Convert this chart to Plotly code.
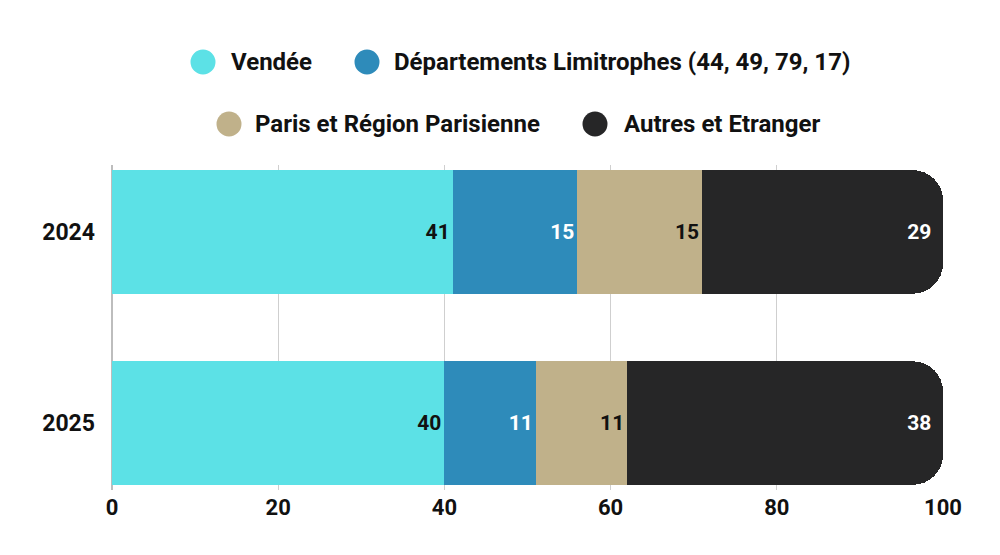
import plotly.graph_objects as go

# data
years = ["2024", "2025"]
series_names = ["Vendée", "Départements Limitrophes (44, 49, 79, 17)",
                "Paris et Région Parisienne", "Autres et Etranger"]
vendee = [41, 40]
limitrophes = [15, 11]
paris = [15, 11]
autres = [29, 38]
x_ticks = [0, 20, 40, 60, 80, 100]

colors = ["#5CE1E6", "#2E8BBA", "#C0B18A", "#262627"]
text_colors = ["#111111", "#FFFFFF", "#111111", "#FFFFFF"]
FONT = "Roboto"

# page has an 8px body margin, so the figure is drawn 8px in from the corner
PAD = 8
W, H = 1000, 555
L, R, T, B = 112 - PAD, 57 + PAD, 165 - PAD, 65 + PAD
# legend items: circle centre x, text start x, row centre y (screen pixels)
legend_pos = [(203, 229, 62), (367, 392, 62), (229, 253, 124), (595, 622, 124)]


def px_x(p):
    return (p - PAD - L) / (W - L - R)


def px_y(p):
    return (H - B - (p - PAD)) / (H - T - B)


fig = go.Figure()

for name, vals, col, tcol in zip(series_names, [vendee, limitrophes, paris, autres],
                                 colors, text_colors):
    fig.add_trace(go.Bar(
        y=years, x=vals, orientation="h", name=name,
        marker=dict(color=col, line=dict(width=0)),
        text=vals, textposition="inside", insidetextanchor="end",
        textfont=dict(color=tcol, size=21, family=FONT, weight="bold"),
        showlegend=False, hoverinfo="x+name",
    ))

# legend drawn by hand so the dots can be as big as in the original
for name, col, (cx, tx, cy) in zip(series_names, colors, legend_pos):
    fig.add_shape(
        type="circle", xref="paper", yref="paper",
        xsizemode="pixel", ysizemode="pixel",
        xanchor=px_x(cx), yanchor=px_y(cy),
        x0=-12.5, x1=12.5, y0=-12.5, y1=12.5,
        fillcolor=col, line=dict(width=0),
    )
    fig.add_annotation(
        x=px_x(tx), y=px_y(cy), xref="paper", yref="paper",
        text=name, showarrow=False, xanchor="left", yanchor="middle",
        font=dict(size=24, family=FONT, color="#111111", weight="bold"),
    )

fig.update_layout(
    barmode="stack",
    bargap=0.354,
    barcornerradius=30,
    width=W, height=H,
    margin=dict(l=L, r=R, t=T, b=B),
    plot_bgcolor="white", paper_bgcolor="white",
    font=dict(family=FONT, color="#111111"),
    showlegend=False,
    xaxis=dict(
        range=[0, 100], tickvals=x_ticks, showgrid=True,
        gridcolor="#CFCFCF", gridwidth=1,
        zeroline=True, zerolinecolor="#BDBDBD", zerolinewidth=1.5,
        tickfont=dict(size=22, family=FONT, weight="bold", color="#111111"),
        ticks="", ticklabelstandoff=2, fixedrange=True,
    ),
    yaxis=dict(
        categoryorder="array", categoryarray=years,
        range=[1.35, -0.35], showgrid=False, zeroline=False,
        tickfont=dict(size=23, family=FONT, weight="bold", color="#111111"),
        ticks="", ticklabelstandoff=16, fixedrange=True,
    ),
)

fig.write_html("out.html")
